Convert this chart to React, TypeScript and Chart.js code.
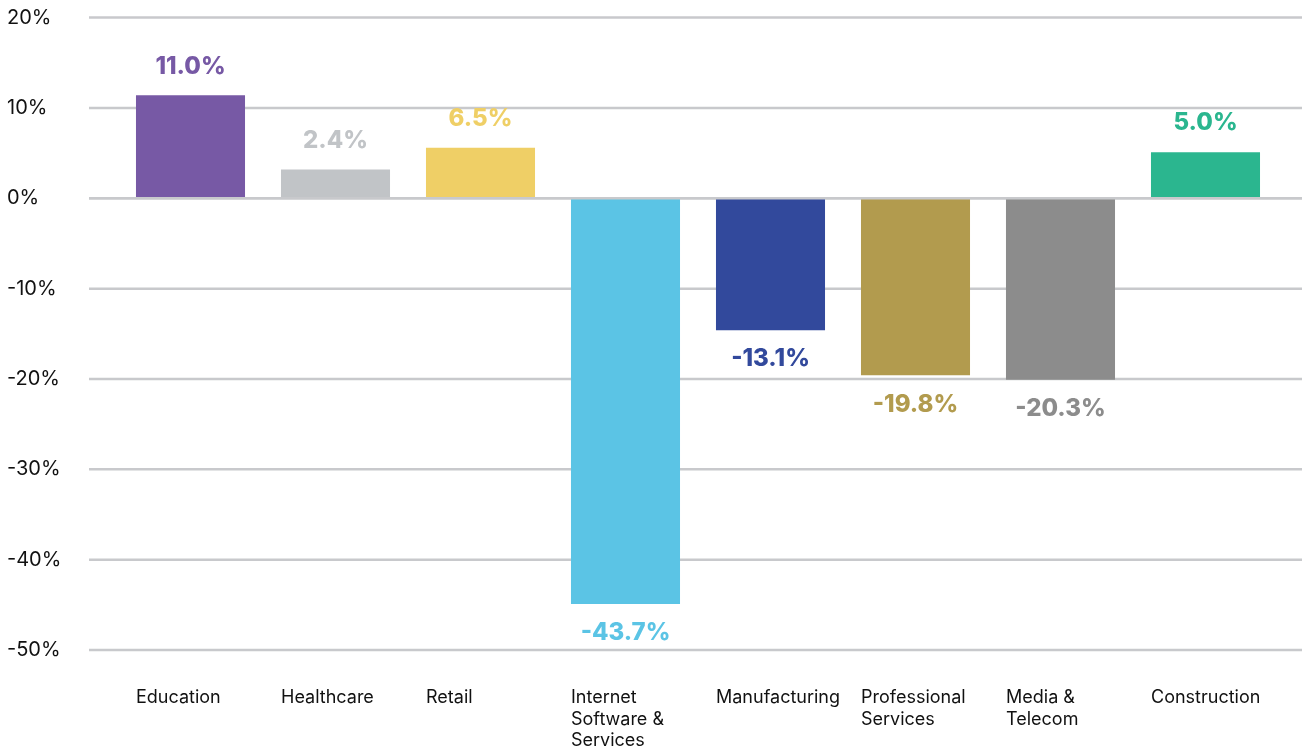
import React, { useEffect, useRef } from "react";
import { Chart, registerables } from "chart.js";

Chart.register(...registerables);

const categories: (string | string[])[] = [
  "Education",
  "Healthcare",
  "Retail",
  ["Internet", "Software &", "Services"],
  "Manufacturing",
  ["Professional", "Services"],
  ["Media &", "Telecom"],
  "Construction",
];

// bar lengths as drawn in the picture (percent)
const barValues: number[] = [11.4, 3.2, 5.6, -44.9, -14.6, -19.6, -20.1, 5.1];

// value labels as printed above / below each bar
const valueLabels: string[] = ["11.0%", "2.4%", "6.5%", "-43.7%", "-13.1%", "-19.8%", "-20.3%", "5.0%"];

const barColors: string[] = [
  "#7759a5",
  "#c1c4c7",
  "#efcf66",
  "#5bc4e5",
  "#32499c",
  "#b29b4e",
  "#8c8c8c",
  "#2bb68f",
];

const yMin = -50;
const yMax = 20;
const yStep = 10;

const FONT = "Inter, 'Noto Sans', sans-serif";
const GRID_COLOR = "#c8c9cc";
const GRID_LEFT = 89;

const gridPlugin = {
  id: "customGrid",
  beforeDatasetsDraw(chart: any) {
    const { ctx, scales } = chart;
    const y = scales.y;
    ctx.save();
    ctx.strokeStyle = GRID_COLOR;
    ctx.lineWidth = 2.5;
    y.ticks.forEach((t: any) => {
      const py = y.getPixelForValue(t.value);
      ctx.beginPath();
      ctx.moveTo(GRID_LEFT, py);
      ctx.lineTo(chart.width, py);
      ctx.stroke();
    });
    ctx.restore();
  },
  afterDatasetsDraw(chart: any) {
    const { ctx, scales } = chart;
    const y = scales.y;
    const py = y.getPixelForValue(0);
    ctx.save();
    ctx.strokeStyle = GRID_COLOR;
    ctx.lineWidth = 2.5;
    ctx.beginPath();
    ctx.moveTo(GRID_LEFT, py);
    ctx.lineTo(chart.width, py);
    ctx.stroke();

    const meta = chart.getDatasetMeta(0);
    ctx.font = `800 24px ${FONT}`;
    ctx.textAlign = "center";
    ctx.textBaseline = "middle";
    meta.data.forEach((bar: any, i: number) => {
      const v = barValues[i];
      const ly = v >= 0 ? bar.y - 29 : bar.y + 29;
      ctx.fillStyle = barColors[i];
      ctx.fillText(valueLabels[i], bar.x, ly);
    });
    ctx.restore();
  },
};

export default function App() {
  const canvasRef = useRef<HTMLCanvasElement | null>(null);

  useEffect(() => {
    if (!canvasRef.current) return;
    const chart = new Chart(canvasRef.current, {
      type: "bar",
      data: {
        labels: categories,
        datasets: [
          {
            data: barValues,
            backgroundColor: barColors,
            borderWidth: 0,
            categoryPercentage: 1,
            barPercentage: 0.752,
          },
        ],
      },
      options: {
        animation: false,
        responsive: true,
        maintainAspectRatio: false,
        layout: { padding: { left: 7, right: 24, top: 17.6, bottom: 0 } },
        plugins: {
          legend: { display: false },
          tooltip: { enabled: false },
          title: { display: false },
        },
        scales: {
          x: {
            grid: { display: false, drawTicks: false },
            border: { display: false },
            ticks: {
              color: "#111111",
              font: { family: FONT, size: 18, lineHeight: 1.2 },
              align: "start",
              labelOffset: -54.5,
              padding: 37,
              maxRotation: 0,
              minRotation: 0,
              autoSkip: false,
            },
            afterFit(scale: any) {
              scale.height = 96;
              scale.paddingLeft = 0;
              scale.paddingRight = 0;
            },
          },
          y: {
            min: yMin,
            max: yMax,
            grid: { display: false, drawTicks: false },
            border: { display: false },
            ticks: {
              stepSize: yStep,
              color: "#111111",
              font: { family: FONT, size: 20 },
              crossAlign: "far",
              callback: (v: any) => `${v}%`,
            },
            afterFit(scale: any) {
              scale.width = 111;
              scale.paddingTop = 0;
              scale.paddingBottom = 0;
            },
          },
        },
      },
      plugins: [gridPlugin],
    });
    return () => chart.destroy();
  }, []);

  return (
    <div style={{ position: "absolute", left: 0, top: 0, width: 1302, height: 746, background: "#ffffff" }}>
      <canvas ref={canvasRef} />
    </div>
  );
}
